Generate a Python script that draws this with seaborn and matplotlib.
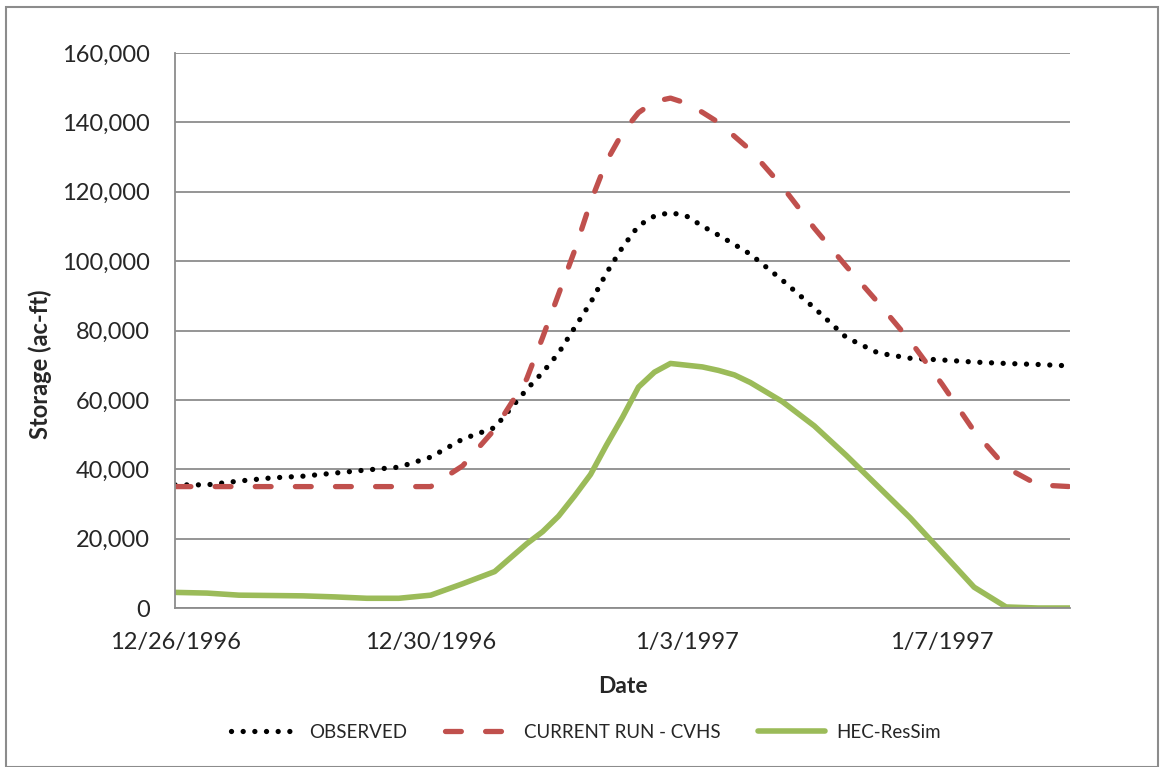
import pandas as pd
import matplotlib.pyplot as plt
import seaborn as sns
from matplotlib.patches import Rectangle

# Samples (days after 12/26/1996)
days = [0, 0.5, 1, 1.5, 2, 2.5, 3, 3.5, 4, 4.5, 5, 5.5, 5.75, 6, 6.25, 6.5,
        6.75, 7, 7.25, 7.5, 7.75, 8, 8.25, 8.5, 8.75, 9, 9.5, 10, 10.5, 11,
        11.5, 12, 12.5, 13, 13.5, 14]
observed = [35500, 35500, 36600, 37500, 38000, 38900, 39800, 40600, 43500, 48700,
            52000, 63000, 67900, 73500, 80800, 88000,
            96600, 104000, 110200, 113000, 114000, 113000, 110100, 107500, 104800,
            102000, 94500, 86500, 78000, 73500,
            72000, 71500, 70900, 70500, 70200, 69800]
cvhs = [35000, 35000, 35000, 35000, 35000, 35000, 35000, 35000, 35000, 41000,
        51500, 66000, 78000, 90500, 103000, 117000,
        128800, 137000, 142800, 146000, 147000, 145500, 142900, 140000, 136000,
        132000, 121500, 109500, 98500, 88000,
        77000, 64500, 51000, 40500, 35500, 35000]
ressim = [4500, 4300, 3700, 3600, 3500, 3200, 2800, 2800, 3700, 7000,
          10500, 18500, 22000, 26500, 32300, 38500,
          47000, 55000, 63700, 68000, 70500, 70000, 69500, 68500, 67200,
          65000, 59500, 52500, 44000, 35000,
          26000, 16000, 6000, 300, 0, 0]

tick_days = [0, 4, 8, 12]
tick_labels = ["12/26/1996", "12/30/1996", "1/3/1997", "1/7/1997"]
y_ticks = [0, 20000, 40000, 60000, 80000, 100000, 120000, 140000, 160000]

start = pd.Timestamp("1996-12-26")
dates = [start + pd.Timedelta(days=d) for d in days]
df = pd.DataFrame({"Date": dates, "OBSERVED": observed,
                   "CURRENT RUN - CVHS": cvhs, "HEC-ResSim": ressim})

sns.set_style("white")
plt.rcParams['font.family'] = ['Lato', 'DejaVu Sans']

fig = plt.figure(figsize=(11.6, 7.67), dpi=100)
ax = fig.add_axes([0.1509, 0.2073, 0.7715, 0.7236])

sns.lineplot(data=df, x="Date", y="OBSERVED", ax=ax, color="black",
             linewidth=3.8, label="OBSERVED")
ax.lines[-1].set_linestyle((0, (0.01, 2.2)))
ax.lines[-1].set_dash_capstyle("round")
sns.lineplot(data=df, x="Date", y="CURRENT RUN - CVHS", ax=ax, color="#C0504D",
             linewidth=3.8, label="CURRENT RUN - CVHS")
ax.lines[-1].set_linestyle((0, (3.0, 4.6)))
ax.lines[-1].set_dash_capstyle("round")
sns.lineplot(data=df, x="Date", y="HEC-ResSim", ax=ax, color="#9BBB59",
             linewidth=4.0, label="HEC-ResSim")
ax.lines[-1].set_solid_capstyle("round")
ax.lines[-1].set_solid_joinstyle("round")

ax.set_xlim(start, start + pd.Timedelta(days=14))
ax.set_ylim(0, 160000)
ax.set_xticks([start + pd.Timedelta(days=d) for d in tick_days])
ax.set_xticklabels(tick_labels, fontsize=17)
ax.set_yticks(y_ticks)
ax.set_yticklabels([f"{v:,}" for v in y_ticks], fontsize=17)

ax.yaxis.grid(True, color="#8c8c8c", linewidth=1.3)
ax.set_axisbelow(True)
for s in ["top", "right"]:
    ax.spines[s].set_visible(False)
for s in ["left", "bottom"]:
    ax.spines[s].set_color("#8c8c8c")
    ax.spines[s].set_linewidth(1.3)
ax.tick_params(axis="both", direction="out", length=5, width=1.3,
               color="#8c8c8c")
ax.tick_params(axis="y", pad=13)
ax.tick_params(axis="x", pad=12)

ax.set_xlabel("Date", fontsize=16.5, fontweight="bold")
ax.set_ylabel("Storage (ac-ft)", fontsize=17, fontweight="bold")
ax.xaxis.set_label_coords(0.5, -0.122)
ax.yaxis.set_label_coords(-0.137, 0.44)

ax.legend(loc="center", bbox_to_anchor=(0.505, 0.045),
          bbox_transform=fig.transFigure, ncol=3,
          frameon=False, fontsize=13.5, handlelength=3.6, columnspacing=2.0,
          handletextpad=0.6)

fig.patches.append(Rectangle((0.005, 0.0), 0.993, 0.991, transform=fig.transFigure,
                             fill=False, edgecolor="#8c8c8c", linewidth=1.5))

fig.savefig("out.png", dpi=100)
